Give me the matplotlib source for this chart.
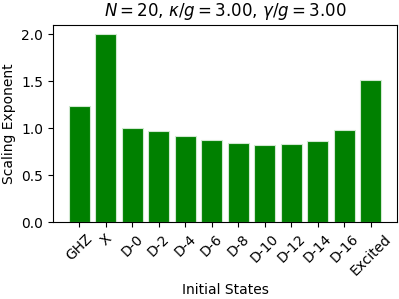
import matplotlib
matplotlib.use("Agg")
import matplotlib.pyplot as plt

states = ["GHZ", "X", "D-0", "D-2", "D-4", "D-6", "D-8", "D-10", "D-12", "D-14", "D-16", "Excited"]
exponents = [1.23, 2.00, 1.00, 0.97, 0.915, 0.87, 0.84, 0.823, 0.833, 0.862, 0.98, 1.51]

fig = plt.figure(figsize=(3.99, 2.99), dpi=100)
ax = fig.add_axes([0.133, 0.2575, 0.862, 0.66])
ax.bar(states, exponents, color="green", edgecolor="#d0e8d0", linewidth=0.8)
ax.set_xlabel("Initial States")
ax.set_ylabel("Scaling Exponent")
ax.set_title(r"$N=20$, $\kappa/g=3.00$, $\gamma/g=3.00$")
ax.set_yticks([0.0, 0.5, 1.0, 1.5, 2.0])
plt.setp(ax.get_xticklabels(), rotation=45, ha="center")
fig.savefig("out.png", dpi=100)
